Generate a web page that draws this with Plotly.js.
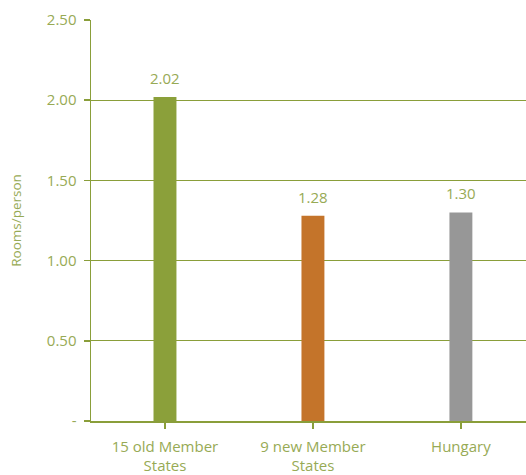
<!DOCTYPE html>
<html><head><meta charset="utf-8">
<script src="https://cdn.plot.ly/plotly-3.0.1.min.js"></script>
<style>html,body{margin:0;padding:0;background:#fff}#c{width:526px;height:475px}</style>
</head><body><div id="c"></div>
<script>
const categories = ["15 old Member<br>States", "9 new Member<br>States", "Hungary"];
const values = [2.02, 1.28, 1.30];
const labels = ["2.02", "1.28", "1.30"];
const barColors = ["#8ba03a", "#c4742a", "#979797"];
const yTickVals = [0, 0.5, 1.0, 1.5, 2.0, 2.5];
const yTickText = ["-", "0.50", "1.00", "1.50", "2.00", "2.50"];

const txtColor = "#97aa55";
const lineColor = "#8a9e3a";
const fam = "Open Sans, Noto Sans, sans-serif";
const xs = values.map((v, i) => i);

Plotly.newPlot("c", [{
  type: "bar",
  x: xs,
  y: values,
  width: 0.155,
  marker: {color: barColors},
  hoverinfo: "none"
}], {
  width: 526, height: 475,
  margin: {l: 91, r: 0, t: 20, b: 54},
  paper_bgcolor: "#fff", plot_bgcolor: "#fff",
  font: {family: fam, size: 15, color: txtColor},
  showlegend: false,
  annotations: values.map((v, i) => ({
    x: xs[i], y: v, text: labels[i], showarrow: false,
    xanchor: "center", yanchor: "bottom", yshift: 7,
    font: {family: fam, size: 15, color: txtColor}
  })),
  xaxis: {
    range: [-0.5, 2.44],
    tickvals: xs,
    ticktext: categories,
    tickson: "boundaries",
    ticks: "outside", ticklen: 6, tickcolor: lineColor, tickwidth: 1.5,
    showline: true, linecolor: lineColor, linewidth: 1.5,
    showgrid: false, zeroline: false,
    ticklabelstandoff: 5,
    tickfont: {family: fam, size: 15, color: txtColor},
    fixedrange: true
  },
  yaxis: {
    range: [0, 2.5],
    tickvals: yTickVals,
    ticktext: yTickText,
    ticks: "outside", ticklen: 6, tickcolor: lineColor, tickwidth: 1.5,
    showline: true, linecolor: lineColor, linewidth: 1.5,
    showgrid: true, gridcolor: lineColor, gridwidth: 1.2,
    zeroline: false,
    ticklabelstandoff: 4,
    tickfont: {family: fam, size: 15, color: txtColor},
    title: {text: "Rooms/person", font: {family: fam, size: 13.5, color: txtColor}, standoff: 22},
    fixedrange: true
  }
}, {staticPlot: true});
</script>
</body></html>
